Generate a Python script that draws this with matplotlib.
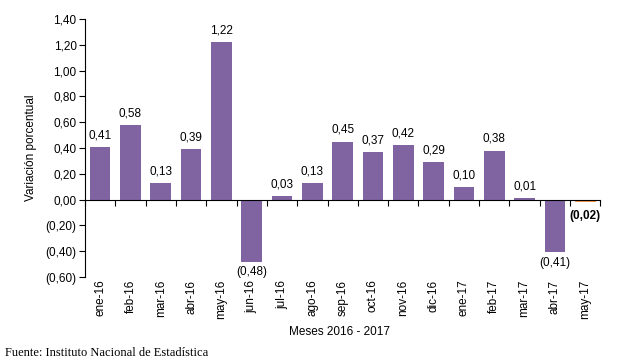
import matplotlib.pyplot as plt
import numpy as np

# Datos del gráfico
meses = ['ene-16', 'feb-16', 'mar-16', 'abr-16', 'may-16', 'jun-16', 'jul-16',
         'ago-16', 'sep-16', 'oct-16', 'nov-16', 'dic-16', 'ene-17', 'feb-17',
         'mar-17', 'abr-17', 'may-17']
variacion = [0.41, 0.58, 0.13, 0.39, 1.22, -0.48, 0.03, 0.13, 0.45, 0.37,
             0.42, 0.29, 0.10, 0.38, 0.01, -0.41, -0.02]
yticks = [-0.6, -0.4, -0.2, 0.0, 0.2, 0.4, 0.6, 0.8, 1.0, 1.2, 1.4]


def formato(v):
    # formato contable: negativos entre paréntesis, coma decimal
    s = f'{abs(v):.2f}'.replace('.', ',')
    return f'({s})' if v < 0 else s


plt.rcParams['font.family'] = ['Liberation Sans', 'DejaVu Sans']

fig = plt.figure(figsize=(6.18, 3.64), dpi=100)
ax = fig.add_axes([0.1375, 0.239, 0.834, 0.709])

x = np.arange(len(meses))
ultimo = len(meses) - 1
colores = ['#8064A2'] * ultimo + ['#F79646']
ax.bar(x, variacion, width=0.68, color=colores, zorder=2)

# etiquetas de valor sobre/bajo cada barra
for i, v in enumerate(variacion):
    if i == ultimo:
        ax.annotate(formato(v), (i, v), xytext=(0, -6), textcoords='offset points',
                    ha='center', va='top', fontsize=8.5, fontweight='bold')
    elif v >= 0:
        ax.annotate(formato(v), (i, v), xytext=(0, 4), textcoords='offset points',
                    ha='center', va='bottom', fontsize=8.5)
    else:
        ax.annotate(formato(v), (i, v), xytext=(0, -3), textcoords='offset points',
                    ha='center', va='top', fontsize=8.5)

ax.set_xlim(-0.5, len(meses) - 0.5)
ax.set_ylim(-0.6, 1.4)
ax.set_yticks(yticks)
ax.set_yticklabels([formato(t) for t in yticks], fontsize=8.5)

# eje x en la línea del cero, sin etiquetas propias
ax.spines['top'].set_visible(False)
ax.spines['right'].set_visible(False)
ax.spines['bottom'].set_position(('data', 0))
ax.set_xticks(np.arange(len(meses) + 1) - 0.5)
ax.set_xticklabels([])
ax.tick_params(axis='x', direction='out', length=4, width=0.8)
ax.tick_params(axis='y', direction='out', length=4, width=0.8, pad=2)

# etiquetas de meses debajo del gráfico
for i, m in enumerate(meses):
    ax.text(i, -0.62, m, rotation=90, ha='center', va='top', fontsize=8.5)

fig.text(0.55, 0.088, 'Meses 2016 - 2017', ha='center', va='center', fontsize=8.5)
fig.text(0.05, 0.594, 'Variación porcentual', rotation=90, ha='center',
         va='center', fontsize=8.5)
fig.text(0.008, 0.03, 'Fuente: Instituto Nacional de Estadística',
         ha='left', va='center', fontsize=9, family='Liberation Serif')

fig.savefig('out.png', dpi=100)
